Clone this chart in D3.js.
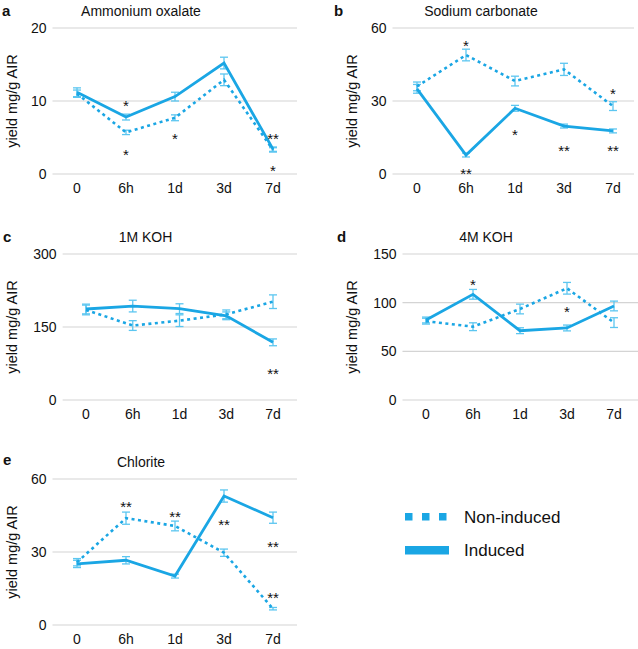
<!DOCTYPE html>
<html><head><meta charset="utf-8">
<script src="https://cdn.jsdelivr.net/npm/d3@7"></script>
<style>
body{margin:0;background:#fff;}
svg{display:block;font-family:"Liberation Sans",Arial,sans-serif;}
</style></head>
<body><svg id="c" width="638" height="649"></svg>
<script>
const categories = ["0","6h","1d","3d","7d"];
const seriesNames = ["Non-induced","Induced"];

const titles = ["Ammonium oxalate","Sodium carbonate","1M KOH","4M KOH","Chlorite"];
const letters = ["a","b","c","d","e"];
const yTicks = [[0,10,20],[0,30,60],[0,150,300],[0,50,100,150],[0,30,60]];

const nonInduced = [
  [11.0, 5.7, 7.7, 12.9, 3.3],
  [36.0, 48.9, 38.2, 43.0, 27.9],
  [185, 153, 163, 176, 202],
  [81, 75.3, 93.5, 114.8, 79.5],
  [25.8, 43.9, 40.7, 29.7, 6.7]
];
const nonInducedErr = [
  [0.5, 0.3, 0.4, 0.8, 0.3],
  [1.8, 2.4, 2.0, 2.5, 1.8],
  [10, 10, 12, 9, 14],
  [3, 4, 5, 6, 5],
  [1.5, 2.5, 2.0, 1.5, 0.5]
];
const induced = [
  [11.2, 7.8, 10.6, 15.2, 3.4],
  [35.0, 7.8, 27.0, 19.7, 17.7],
  [187, 193, 187.7, 173, 118.5],
  [82.2, 108.6, 71.2, 74.0, 96.6],
  [25.1, 26.6, 20.1, 53.0, 44.1]
];
const inducedErr = [
  [0.6, 0.4, 0.6, 0.8, 0.3],
  [1.8, 0.8, 1.2, 0.8, 0.8],
  [10, 12, 10, 8, 7],
  [3, 5, 3, 3, 5],
  [1.5, 1.5, 0.8, 2.5, 2.3]
];
// significance marks: [category, y value (data units), label]
const stars = [
  [["6h",9.6,"*"],["6h",2.9,"*"],["1d",5.1,"*"],["7d",5.1,"**"],["7d",0.8,"*"]],
  [["6h",53.7,"*"],["6h",1.2,"**"],["1d",17.1,"*"],["3d",10.3,"**"],["7d",34.1,"*"],["7d",10.3,"**"]],
  [["7d",58,"**"]],
  [["6h",120.6,"*"],["3d",93.2,"*"]],
  [["6h",49.6,"**"],["1d",45.5,"**"],["3d",42.2,"**"],["7d",32.9,"**"],["7d",12.3,"**"]]
];

// layout: category x range, y pixel range (zero, top)
const layout = [
  {x:[77,273], y:[174,28], gridR:297, labX:12, letX:2, letY:16},
  {x:[417,613], y:[174,28], gridR:634, labX:352, letX:334, letY:16},
  {x:[86,273], y:[400,254], gridR:297, labX:12, letX:3, letY:242},
  {x:[426,614], y:[400,254], gridR:638, labX:352, letX:337, letY:242},
  {x:[77,273], y:[625,479], gridR:297, labX:12, letX:3, letY:465}
];

const lineColor = "#1aa6e4";
const errColor = "#5cc6f0";
const svg = d3.select("#c");

layout.forEach((L, i) => {
  const x = d3.scalePoint().domain(categories).range(L.x);
  const ymax = yTicks[i][yTicks[i].length-1];
  const y = d3.scaleLinear().domain([0, ymax]).range(L.y);
  const step = x.step();
  const gL = L.x[0] - step/2;
  const g = svg.append("g");

  g.selectAll(".grid").data(yTicks[i]).enter().append("line")
    .attr("x1", gL).attr("x2", L.gridR)
    .attr("y1", d=>y(d)).attr("y2", d=>y(d))
    .attr("stroke", "#d4d4d4").attr("stroke-width", 1.2);

  g.selectAll(".yt").data(yTicks[i]).enter().append("text")
    .attr("x", gL - 6).attr("y", d=>y(d)).attr("dy","0.36em")
    .attr("text-anchor","end").attr("font-size", 14).attr("fill","#111")
    .text(d=>d);

  g.selectAll(".xt").data(categories).enter().append("text")
    .attr("x", d=>x(d)).attr("y", L.y[0] + 19)
    .attr("text-anchor","middle").attr("font-size", 14).attr("fill","#111")
    .text(d=>d);

  const midY = (L.y[0] + L.y[1]) / 2;
  g.append("text")
    .attr("transform", `translate(${L.labX},${midY}) rotate(-90)`)
    .attr("dy","0.35em")
    .attr("text-anchor","middle").attr("font-size", 14.5).attr("fill","#111")
    .text("yield mg/g AIR");

  g.append("text").attr("x", (L.x[0]+L.x[1])/2 - 34).attr("y", L.y[1] - 12)
    .attr("text-anchor","middle").attr("font-size", 14).attr("fill","#111")
    .text(titles[i]);

  g.append("text").attr("x", L.letX).attr("y", L.letY)
    .attr("font-size", 15).attr("font-weight","bold").attr("fill","#111")
    .text(letters[i]);

  const series = [
    {vals: nonInduced[i], err: nonInducedErr[i], dash: "3,3.5", w: 2.6},
    {vals: induced[i], err: inducedErr[i], dash: null, w: 2.8}
  ];
  const line = d3.line().x((d,j)=>x(categories[j])).y(d=>y(d));

  series.forEach(s => {
    const eb = g.selectAll(null).data(s.vals).enter().append("g");
    eb.append("line")
      .attr("x1",(d,j)=>x(categories[j])).attr("x2",(d,j)=>x(categories[j]))
      .attr("y1",(d,j)=>y(d - s.err[j])).attr("y2",(d,j)=>y(d + s.err[j]))
      .attr("stroke", errColor).attr("stroke-width",1.3);
    [-1,1].forEach(sg => {
      eb.append("line")
        .attr("x1",(d,j)=>x(categories[j]) - 4).attr("x2",(d,j)=>x(categories[j]) + 4)
        .attr("y1",(d,j)=>y(d + sg*s.err[j])).attr("y2",(d,j)=>y(d + sg*s.err[j]))
        .attr("stroke", errColor).attr("stroke-width",1.3);
    });
  });
  series.forEach(s => {
    g.append("path").datum(s.vals).attr("d", line)
      .attr("fill","none").attr("stroke", lineColor).attr("stroke-width", s.w)
      .attr("stroke-dasharray", s.dash);
  });

  g.selectAll(".st").data(stars[i]).enter().append("text")
    .attr("x", d=>x(d[0])).attr("y", d=>y(d[1]) + 7.5)
    .attr("text-anchor","middle").attr("font-size", 15).attr("fill","#111")
    .text(d=>d[2]);
});

const leg = svg.append("g");
const legY = d3.scalePoint().domain(seriesNames).range([517, 550]);
seriesNames.forEach((name, k) => {
  const yy = legY(name);
  if (k === 0) {
    leg.selectAll(null).data([0,1,2]).enter().append("rect")
      .attr("x", d => 405 + d*17).attr("y", yy - 4).attr("width", 7.5).attr("height", 7.5)
      .attr("fill", lineColor);
  } else {
    leg.append("rect").attr("x", 405).attr("y", yy - 4).attr("width", 44).attr("height", 8.5)
      .attr("fill", lineColor);
  }
  leg.append("text").attr("x", 464).attr("y", yy).attr("dy","0.36em")
    .attr("font-size", 17).attr("fill","#111").text(name);
});
</script></body></html>
